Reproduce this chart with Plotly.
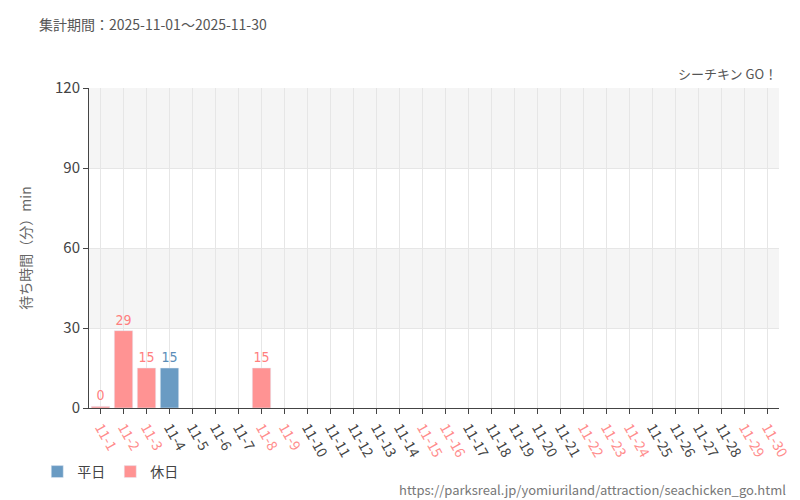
import plotly.graph_objects as go

days = [f"11-{i}" for i in range(1, 31)]
holidays = {1, 2, 3, 8, 9, 15, 16, 22, 23, 24, 29, 30}
weekday_vals = {4: 15}
holiday_vals = {1: 0, 2: 29, 3: 15, 8: 15}

wk_y = [weekday_vals.get(i) for i in range(1, 31)]
hd_y = [holiday_vals.get(i) for i in range(1, 31)]
BLUE = "#6a9bc3"; RED = "#ff9393"
BLUE_T = "#5b8db8"; RED_T = "#ff7f7f"
NARROW = "DejaVu Sans Condensed"

fig = go.Figure()
fig.add_bar(x=days, y=wk_y, name="平日", marker_color=BLUE, width=0.8,
            text=[("" if v is None else str(v)) for v in wk_y], textposition="outside",
            textfont=dict(color=BLUE_T, size=14, family=NARROW), cliponaxis=False)
fig.add_bar(x=days, y=[v if v else (0.6 if v == 0 else None) for v in hd_y], name="休日", marker_color=RED, width=0.8,
            text=[("" if v is None else str(v)) for v in hd_y], textposition="outside",
            textfont=dict(color=RED_T, size=14, family=NARROW), cliponaxis=False)

ticktext = [f"<span style='color:{'#ff8c8c' if i in holidays else '#444'}'>{d}</span>" for i, d in zip(range(1, 31), days)]

for y0, y1 in [(30, 60), (90, 120)]:
    fig.add_shape(type="rect", xref="paper", yref="y", x0=0, x1=1, y0=y0, y1=y1,
                  fillcolor="#f5f5f5", line_width=0, layer="below")

fig.update_layout(
    width=800, height=500, barmode="overlay", plot_bgcolor="white", paper_bgcolor="white",
    margin=dict(l=81, r=29, t=80, b=100, autoexpand=False),
    font=dict(family="Noto Sans CJK JP", color="#444"),
    showlegend=True,
    legend=dict(orientation="h", x=-0.075, y=-0.2, xanchor="left", yanchor="middle",
                font=dict(size=14), bgcolor="rgba(0,0,0,0)"),
)
fig.add_annotation(text="集計期間：2025-11-01～2025-11-30", xref="paper", yref="paper",
                   x=-0.075, y=1.2, xanchor="left", yanchor="middle", showarrow=False, font=dict(size=14, color="#555"))
fig.add_annotation(text="シーチキン GO！", xref="paper", yref="paper", x=1, y=1.01, xanchor="right",
                   yanchor="bottom", showarrow=False, font=dict(size=13, color="#555"))
fig.add_annotation(text="https://parksreal.jp/yomiuriland/attraction/seachicken_go.html", xref="paper", yref="paper",
                   x=1.013, y=-0.255, xanchor="right", yanchor="middle", showarrow=False, font=dict(size=13, color="#777"))
fig.update_xaxes(type="category", tickvals=days, ticktext=ticktext, tickangle=60, tickfont=dict(size=14),
                 showgrid=True, gridcolor="#e6e6e6", showline=True, linecolor="#444", ticks="outside",
                 ticklen=5, tickcolor="#444")
fig.update_yaxes(range=[0, 120], tickvals=[0, 30, 60, 90, 120], showgrid=True, gridcolor="#e6e6e6",
                 showline=True, linecolor="#444", ticks="outside", ticklen=5, tickfont=dict(size=15, color="#444"),
                 title=dict(text="待ち時間（分）min", font=dict(size=14, color="#666"), standoff=20), zeroline=False)
fig.write_html("out.html")
